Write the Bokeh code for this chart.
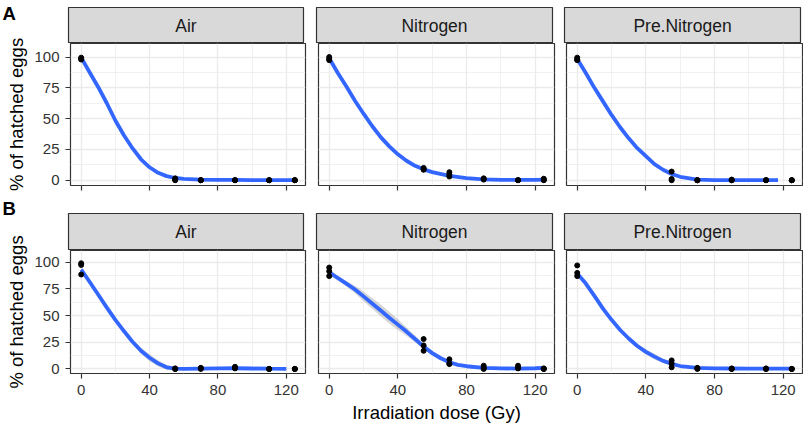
from bokeh.plotting import figure
from bokeh.layouts import row, column
from bokeh.models import Range1d, FixedTicker, LinearAxis, Grid, Label, Div
from bokeh.embed import file_html
from bokeh.resources import INLINE

# ---------------- data ----------------
GASES = ["Air", "Nitrogen", "Pre.Nitrogen"]
PANEL_TAGS = ["A", "B"]
X_TICKS = [0, 40, 80, 120]
X_MINOR = [20, 60, 100]
Y_TICKS = [0, 25, 50, 75, 100]
Y_MINOR = [12.5, 37.5, 62.5, 87.5]
X_LABEL = "Irradiation dose (Gy)"
Y_LABEL = "% of hatched eggs"

# observed replicates
DOSE_REPS = [0, 0, 0, 55, 55, 55, 70, 70, 70, 90, 90, 90, 110, 110, 110, 125, 125, 125]
A_AIR_PTS = [99.5, 98.5, 98, 1.5, 0.5, 0, 0, 0, 0, 0, 0, 0, 0, 0, 0, 0, 0, 0]
A_N_PTS = [100, 98.5, 97.5, 10, 9, 8.5, 6.5, 4.5, 3, 1.5, 1, 0.5, 0, 0, 0, 1.2, 0.3, 0]
A_PREN_PTS = [99.5, 98, 97.5, 7, 1, 0, 0, 0, 0, 0.5, 0, 0, 0, 0, 0, 0, 0, 0]
B_AIR_PTS = [99, 97.5, 88.5, 0.5, 0, 0, 1, 0.5, 0, 2, 1, 0.5, 0, 0, 0, 0, 0, 0]
B_N_PTS = [95, 91.5, 87, 28, 22, 17, 9, 5, 4.5, 3, 1, 0, 3, 1, 0.5, 0.5, 0, 0]
B_PREN_PTS = [97, 90, 87, 8, 5, 1.5, 1, 0.5, 0, 0.5, 0, 0, 0.5, 0, 0, 0, 0, 0]

# smoothed fits and their ribbon half-widths
FIT_X_125 = [0, 5, 10, 15, 20, 25, 30, 35, 40, 45, 50, 55, 60, 70, 80, 90, 100, 110, 120, 125]
FIT_X_117 = [0, 5, 10, 15, 20, 25, 30, 35, 40, 45, 50, 55, 60, 70, 80, 90, 100, 110, 117]
FIT_X_120 = [0, 5, 10, 15, 20, 25, 30, 35, 40, 45, 50, 55, 60, 70, 80, 90, 100, 110, 120]
FIT_X_BN = [0, 5, 10, 15, 20, 25, 30, 35, 40, 45, 50, 55, 60, 65, 70, 75, 80, 90, 100, 110, 120, 125]

A_AIR_FIT = [99.5, 87.5, 75.5, 62.5, 48.5, 36.5, 26, 17, 10.5, 6, 3.3, 1.8, 1.0, 0.5, 0.3, 0.2, 0.1, 0.1, 0.1, 0.1]
A_AIR_SE = [1.2, 1.0, 0.9, 0.9, 1.0, 1.1, 1.2, 1.2, 1.1, 1.0, 0.9, 0.8, 0.7, 0.6, 0.6, 0.6, 0.6, 0.6, 0.7, 0.8]
A_N_FIT = [99, 87, 76, 64.5, 54, 44, 35, 27.5, 21, 15.8, 11.7, 8.8, 6.6, 3.5, 1.7, 0.7, 0.3, 0.2, 0.3, 0.4]
A_N_SE = [1.2, 1.0, 0.9, 0.9, 1.0, 1.1, 1.2, 1.2, 1.1, 1.0, 0.9, 0.8, 0.7, 0.7, 0.6, 0.6, 0.6, 0.6, 0.7, 0.8]
A_PREN_FIT = [98.5, 87, 75, 64, 53, 43, 34, 26, 19.5, 13, 8.5, 5, 2.8, 0.5, 0.1, 0.1, 0.1, 0.1, 0.1]
A_PREN_SE = [1.2, 1.0, 0.9, 0.9, 1.0, 1.1, 1.2, 1.2, 1.1, 1.0, 0.9, 0.8, 0.7, 0.6, 0.6, 0.6, 0.6, 0.6, 0.7]
B_AIR_FIT = [93, 81.5, 69.5, 57.5, 46, 35.5, 25.5, 17, 10.5, 5.2, 1.5, 0.3, 0.1, 0.3, 0.5, 0.6, 0.4, 0.2, 0.1]
B_AIR_SE = [2.0, 1.8, 1.6, 1.5, 1.5, 1.8, 2.2, 2.8, 3.2, 3.0, 2.2, 1.5, 1.0, 0.8, 0.8, 0.8, 0.8, 0.8, 0.9]
B_N_FIT = [90.5, 85.2, 79.9, 74.4, 68, 61.4, 54.8, 48, 41.5, 35, 28, 21, 14.8, 10, 6.2, 3.8, 2.5, 1.0, 0.5, 0.3, 0.6, 0.9]
B_N_SE = [2.5, 2.3, 2.5, 3.5, 4.5, 5.0, 5.5, 5.5, 5.0, 4.0, 3.0, 2.2, 2.0, 1.8, 1.6, 1.5, 1.4, 1.2, 1.2, 1.2, 1.3, 1.5]
B_PREN_FIT = [89.5, 80, 68.5, 56.5, 46, 36.5, 28.5, 21.5, 16, 11.5, 7.5, 4.8, 2.7, 1.0, 0.5, 0.4, 0.3, 0.3, 0.3, 0.3]
B_PREN_SE = [2.0, 1.8, 1.6, 1.5, 1.5, 1.6, 1.8, 2.0, 2.5, 2.6, 2.0, 1.5, 1.0, 0.8, 0.8, 0.8, 0.8, 0.8, 0.8, 0.9]

PANELS = [
    [(A_AIR_PTS, FIT_X_125, A_AIR_FIT, A_AIR_SE),
     (A_N_PTS, FIT_X_125, A_N_FIT, A_N_SE),
     (A_PREN_PTS, FIT_X_117, A_PREN_FIT, A_PREN_SE)],
    [(B_AIR_PTS, FIT_X_120, B_AIR_FIT, B_AIR_SE),
     (B_N_PTS, FIT_X_BN, B_N_FIT, B_N_SE),
     (B_PREN_PTS, FIT_X_125, B_PREN_FIT, B_PREN_SE)],
]

# ---------------- style / geometry ----------------
FONT = "Liberation Sans"
BLUE = "#3366FF"
GRID = "#EBEBEB"
DARK = "#333333"
STRIP_BG = "#D9D9D9"
X_RANGE = (-6.25, 131.25)
Y_RANGE = (-4.3, 111.0)
FW = [235, 236, 236]
LB = [37, 7, 6]
RB = [6, 6, 2]
LEFT_W = 31
STRIP_TOP = [7, 13]
STRIP_H = [36, 37]
PANEL_H = [142, 123]
PANEL_BOTTOM = [15, 53]
TAG_H = [30, 25]
TAG_PAD = [5, 0.3]


def base_fig(**kw):
    return figure(x_axis_type=None, y_axis_type=None, toolbar_location=None,
                  output_backend="svg", title=None, border_fill_color="white", **kw)


def strip_fig(r, c):
    p = base_fig(frame_width=FW[c], frame_height=STRIP_H[r], x_range=Range1d(0, 1),
                 y_range=Range1d(0, 1), min_border_left=LB[c], min_border_right=RB[c],
                 min_border_top=STRIP_TOP[r], min_border_bottom=0,
                 background_fill_color=STRIP_BG, outline_line_color=DARK, outline_line_width=1.2)
    p.add_layout(Label(x=0.5, y=0.5, text=GASES[c], text_align="center", text_baseline="middle",
                       text_font=FONT, text_font_size="17.5px", text_color="#1A1A1A"))
    return p


def panel_fig(r, c):
    pts, fx, fy, se = PANELS[r][c]
    p = base_fig(frame_width=FW[c], frame_height=PANEL_H[r], x_range=Range1d(*X_RANGE),
                 y_range=Range1d(*Y_RANGE), min_border_left=LB[c], min_border_right=RB[c],
                 min_border_top=0, min_border_bottom=PANEL_BOTTOM[r],
                 outline_line_color=DARK, outline_line_width=1.2, background_fill_color="white")
    xt = FixedTicker(ticks=X_TICKS, minor_ticks=X_MINOR)
    yt = FixedTicker(ticks=Y_TICKS, minor_ticks=Y_MINOR)
    for dim, t in ((0, xt), (1, yt)):
        p.add_layout(Grid(dimension=dim, ticker=t, grid_line_color=GRID, grid_line_width=1.3,
                          minor_grid_line_color=GRID, minor_grid_line_width=0.7))
    xa = LinearAxis(ticker=xt, axis_line_color=None, major_tick_line_color=DARK,
                    major_tick_line_width=1.2, major_tick_in=0, major_tick_out=5,
                    minor_tick_line_color=None, major_label_text_font=FONT,
                    major_label_text_font_size=("15px" if r == 1 else "6px"),
                    major_label_text_color=DARK, major_label_standoff=(6 if r == 1 else 0))
    if r == 0:
        xa.major_label_overrides = {t: "" for t in X_TICKS}
    if r == 1 and c == 1:
        xa.axis_label = X_LABEL
        xa.axis_label_text_font = FONT
        xa.axis_label_text_font_size = "18.5px"
        xa.axis_label_text_font_style = "normal"
        xa.axis_label_text_color = "black"
        xa.axis_label_standoff = 4
    p.add_layout(xa, "below")
    if c == 0:
        ya = LinearAxis(ticker=yt, axis_line_color=None, major_tick_line_color=DARK,
                        major_tick_line_width=1.2, major_tick_in=0, major_tick_out=5,
                        minor_tick_line_color=None, major_label_text_font=FONT,
                        major_label_text_font_size="15px", major_label_text_color=DARK,
                        major_label_standoff=6)
        p.add_layout(ya, "left")
    lower = [y - s for y, s in zip(fy, se)]
    upper = [y + s for y, s in zip(fy, se)]
    p.varea(x=fx, y1=lower, y2=upper, fill_color="#999999", fill_alpha=0.4)
    p.line(fx, fy, line_color=BLUE, line_width=3.8)
    p.scatter(DOSE_REPS, pts, size=5, color="black")
    return p


def tag_div(r):
    html = ('<div style="font-family: \'Liberation Sans\', Arial, sans-serif; font-size: 18.5px; '
            'font-weight: bold; line-height: 18.5px; color: black; margin: 0; '
            'padding: %spx 0 0 2.5px;">%s</div>' % (TAG_PAD[r], PANEL_TAGS[r]))
    return Div(text=html, width=LEFT_W, height=TAG_H[r], margin=0)


def ylab_fig(r):
    top = STRIP_TOP[r] + STRIP_H[r] - TAG_H[r]
    p = base_fig(frame_width=1, frame_height=PANEL_H[r], x_range=Range1d(0, 1),
                 y_range=Range1d(*Y_RANGE), min_border_left=LEFT_W - 1, min_border_right=0,
                 min_border_top=top, min_border_bottom=PANEL_BOTTOM[r], outline_line_color=None,
                 background_fill_color="white")
    ax = LinearAxis(ticker=FixedTicker(ticks=[]), axis_line_color=None, major_tick_out=0,
                    major_tick_in=0, minor_tick_out=0, minor_tick_in=0, major_label_standoff=0,
                    axis_label=Y_LABEL, axis_label_text_font=FONT,
                    axis_label_text_font_size="18.5px", axis_label_text_font_style="normal",
                    axis_label_text_color="black", axis_label_standoff=4)
    p.add_layout(ax, "left")
    return p


blocks = []
for r in range(2):
    left = column(tag_div(r), ylab_fig(r))
    grid = column(row(*[strip_fig(r, c) for c in range(3)]),
                  row(*[panel_fig(r, c) for c in range(3)]))
    blocks.append(row(left, grid))

layout = column(*blocks)

open("out.html", "w").write(file_html(layout, INLINE, title="Hatched eggs"))
